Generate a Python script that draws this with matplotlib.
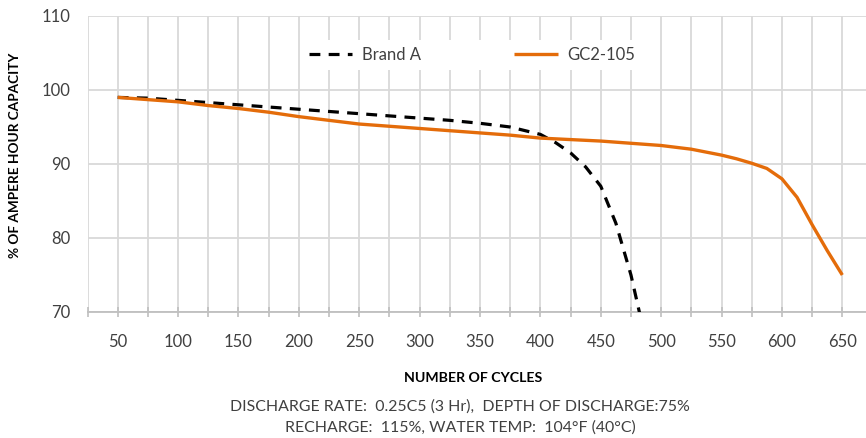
import matplotlib.pyplot as plt

plt.rcParams['font.family'] = ['Lato', 'DejaVu Sans']

# cycles (read every 25 cycles, a few extra near the bends)
cycles = [50, 75, 100, 125, 150, 175, 200, 225, 250, 275, 300, 325, 350,
          375, 400, 425, 450, 475, 500, 525, 550, 562.5, 575, 587.5, 600,
          612.5, 625, 637.5, 650]
gc2_105 = [99.0, 98.7, 98.4, 97.9, 97.5, 97.0, 96.4, 95.9, 95.4, 95.1, 94.8,
           94.5, 94.2, 93.9, 93.5, 93.3, 93.1, 92.8, 92.5, 92.0, 91.2, 90.7,
           90.1, 89.4, 88.0, 85.5, 81.8, 78.3, 75.0]
brand_cycles = [50, 75, 100, 125, 150, 175, 200, 225, 250, 275, 300, 325, 350,
                375, 400, 412.5, 425, 437.5, 450, 462.5, 475, 500]
brand_a = [99.0, 98.9, 98.6, 98.3, 98.0, 97.7, 97.4, 97.1, 96.8, 96.5, 96.2,
           95.9, 95.5, 95.0, 94.0, 92.9, 91.5, 89.6, 87.0, 82.0, 75.0, 57.0]

tick_pos = list(range(25, 676, 25))
tick_labels = [str(t) if t % 50 == 0 else '' for t in tick_pos]

txt = '#404040'
grid = '#d9d9d9'

fig = plt.figure(figsize=(8.66, 4.38), dpi=100)
ax = fig.add_axes([87.5 / 866, 1 - 312 / 438, 785 / 866, 296 / 438])

ax.plot(brand_cycles, brand_a, color='black', lw=2.3, dashes=(3.4, 2.6),
        label='Brand A', zorder=3)
ax.plot(cycles, gc2_105, color='#e46c0a', lw=2.4, label='GC2-105', zorder=3,
        solid_capstyle='butt', solid_joinstyle='round')

ax.set_xlim(25, 675)
ax.set_ylim(70, 110)
ax.set_yticks([70, 80, 90, 100, 110])
ax.set_xticks(tick_pos)
ax.set_xticklabels(tick_labels)

ax.grid(True, color=grid, lw=1.3)
ax.set_axisbelow(True)
for s in ['top', 'right', 'left']:
    ax.spines[s].set_visible(False)
ax.spines['bottom'].set_color('#bfbfbf')
ax.spines['bottom'].set_linewidth(1.3)
ax.tick_params(axis='x', direction='inout', length=7, color='#bfbfbf',
               width=1.2, labelsize=12, labelcolor=txt, pad=12)
ax.tick_params(axis='y', length=0, labelsize=12, labelcolor=txt, pad=12)

ax.set_ylabel('% OF AMPERE HOUR CAPACITY', fontsize=9.8, fontweight='bold',
              color='black')
ax.yaxis.set_label_coords(-0.085, 0.53)

leg = ax.legend(loc='center', bbox_to_anchor=(0.49, 0.868), ncol=2,
                frameon=True, fancybox=False, edgecolor='none',
                facecolor='white', framealpha=1, fontsize=12,
                handlelength=2.6, handletextpad=0.6, columnspacing=5.6,
                borderpad=0.4)
for t in leg.get_texts():
    t.set_color(txt)

fig.text(473 / 866, 1 - 378 / 438, 'NUMBER OF CYCLES', ha='center',
         va='center', fontsize=10.2, fontweight='bold', color='black')
fig.text(460 / 866, 1 - 407 / 438,
         'DISCHARGE RATE:  0.25C5 (3 Hr),  DEPTH OF DISCHARGE:75%',
         ha='center', va='center', fontsize=11.4, color=txt)
fig.text(460 / 866, 1 - 428 / 438,
         'RECHARGE:  115%, WATER TEMP:  104°F (40°C)',
         ha='center', va='center', fontsize=11.4, color=txt)

fig.savefig('out.png', dpi=100)
